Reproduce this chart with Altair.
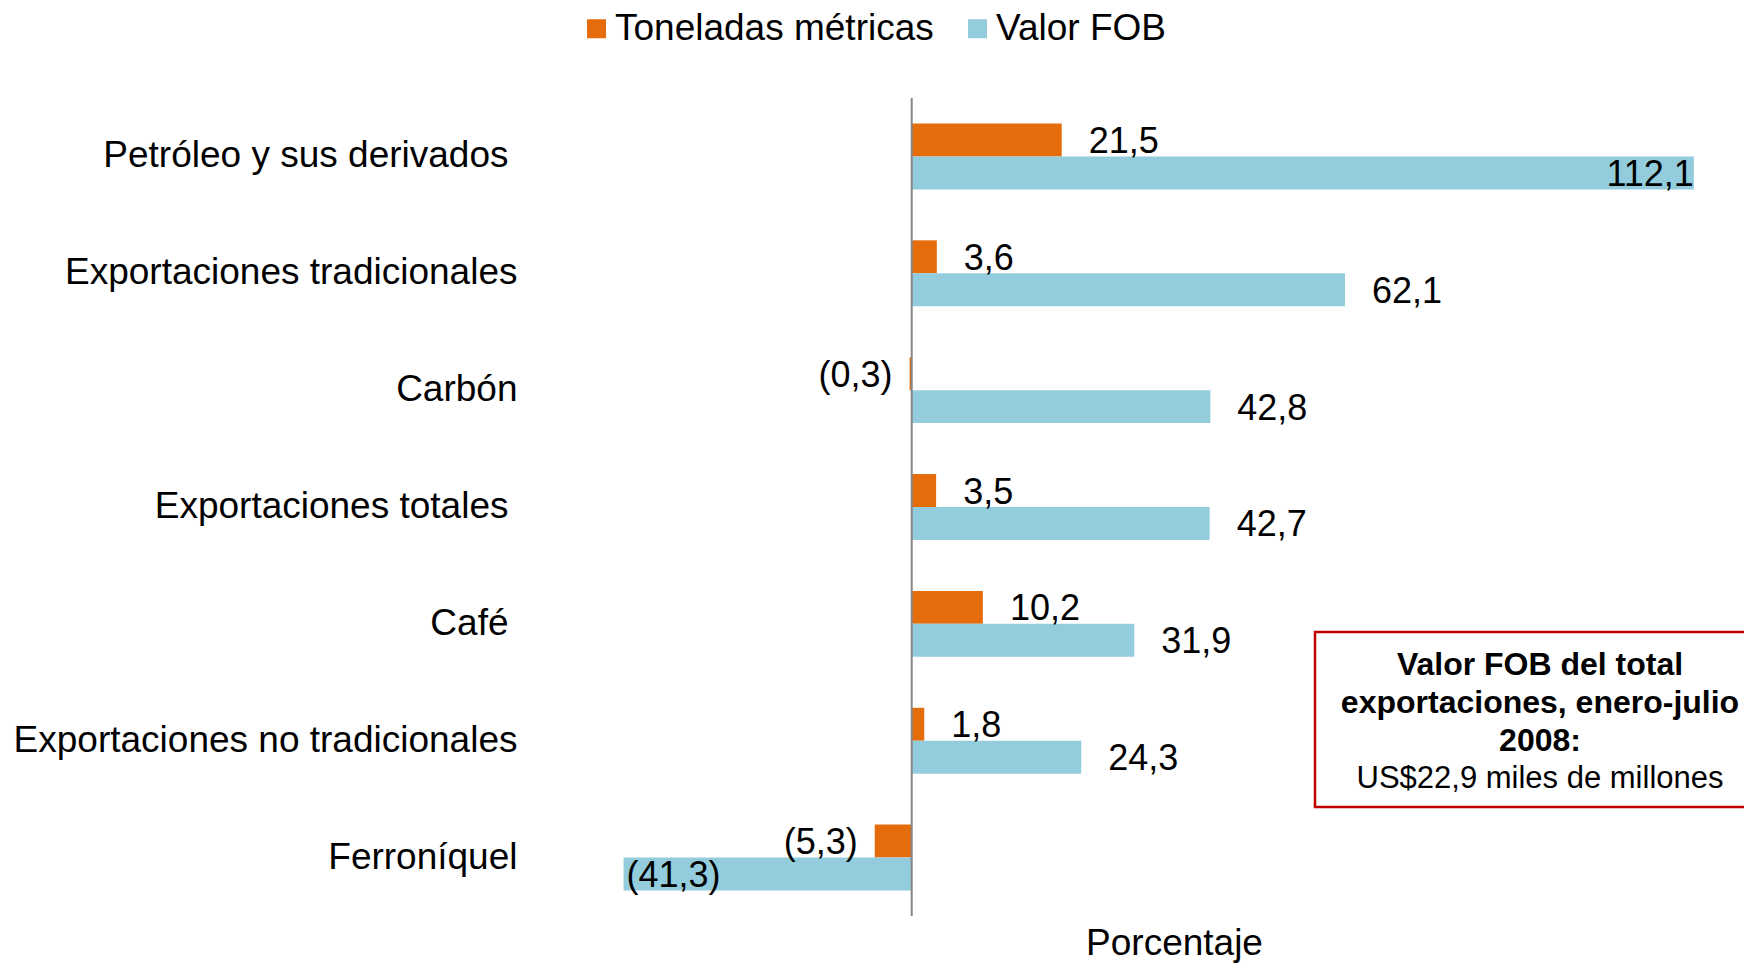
import altair as alt
import pandas as pd

categories = [
    "Petróleo y sus derivados",
    "Exportaciones tradicionales",
    "Carbón",
    "Exportaciones totales",
    "Café",
    "Exportaciones no tradicionales",
    "Ferroníquel",
]
# labels that carried a trailing space in the original
spaced_labels = ["Petróleo y sus derivados", "Exportaciones totales", "Café"]
series = ["Toneladas métricas", "Valor FOB"]
toneladas = [21.5, 3.6, -0.3, 3.5, 10.2, 1.8, -5.3]
valor_fob = [112.1, 62.1, 42.8, 42.7, 31.9, 24.3, -41.3]
colors = ["#E46C0A", "#93CDDD"]
x_title = "Porcentaje"
box_bold = ["Valor FOB del total", "exportaciones, enero-julio", "2008:"]
box_normal = "US$22,9 miles de millones"


def fmt(v):
    s = f"{abs(v):.1f}".replace(".", ",")
    return f"({s})" if v < 0 else s


rows = []
for c, t, v in zip(categories, toneladas, valor_fob):
    rows.append({"cat": c, "series": series[0], "value": t, "label": fmt(t)})
    rows.append({"cat": c, "series": series[1], "value": v, "label": fmt(v)})
df = pd.DataFrame(rows)
one = pd.DataFrame({"k": [0]})

FONT = "Liberation Sans"
W, H = 1214, 818

spaced_js = "[" + ",".join("'" + s + "'" for s in spaced_labels) + "]"

x_scale = alt.Scale(domain=[-56, 118], nice=False, zero=False)
y_enc = alt.Y(
    "cat:N",
    sort=categories,
    scale=alt.Scale(paddingInner=0.436, paddingOuter=0.218),
    axis=alt.Axis(
        title=None, domain=False, ticks=False, tickSize=0,
        labelPadding={"condition": {"test": f"indexof({spaced_js}, datum.label) >= 0", "value": 13}, "value": 4},
        labelFont=FONT, labelFontSize=37, labelColor="#000000", labelLimit=600,
    ),
)
yoff = alt.YOffset("series:N", sort=series, scale=alt.Scale(paddingInner=0, paddingOuter=0))

base = alt.Chart(df)

bars = base.mark_bar().encode(
    x=alt.X(
        "value:Q", scale=x_scale,
        axis=alt.Axis(
            title=x_title, labels=False, ticks=False, domain=False, grid=False,
            titleFont=FONT, titleFontSize=37, titleFontWeight="normal", titleColor="#000000",
            titleX=653, titleY=38, titleBaseline="alphabetic",
        ),
    ),
    y=y_enc,
    yOffset=yoff,
    color=alt.Color(
        "series:N", sort=series,
        scale=alt.Scale(domain=series, range=colors),
        legend=alt.Legend(
            title=None, orient="none", direction="horizontal",
            legendX=57, legendY=-88, padding=0,
            symbolType="square", symbolSize=361, symbolStrokeWidth=0,
            labelFont=FONT, labelFontSize=37, labelColor="#000000",
            labelOffset=0, columnPadding=25, labelLimit=600,
        ),
    ),
)

txt_common = dict(font=FONT, fontSize=36, color="#000000", baseline="middle", dy=2)

lbl_pos = base.mark_text(align="left", dx=27, **txt_common).encode(
    x=alt.X("value:Q", scale=x_scale), y=y_enc, yOffset=yoff, text="label:N"
).transform_filter("datum.value >= 0 && datum.value <= 100")

lbl_neg = base.mark_text(align="right", dx=-17, **txt_common).encode(
    x=alt.X("value:Q", scale=x_scale), y=y_enc, yOffset=yoff, text="label:N"
).transform_filter("datum.value < 0 && datum.value >= -30")

lbl_in_pos = base.mark_text(align="right", dx=0, **txt_common).encode(
    x=alt.X("value:Q", scale=x_scale), y=y_enc, yOffset=yoff, text="label:N"
).transform_filter("datum.value > 100")

lbl_in_neg = base.mark_text(align="left", dx=3, **txt_common).encode(
    x=alt.X("value:Q", scale=x_scale), y=y_enc, yOffset=yoff, text="label:N"
).transform_filter("datum.value < -30")

zero_rule = alt.Chart(one).mark_rule(color="#868686", strokeWidth=2).encode(
    x=alt.datum(0, scale=x_scale)
)

box = alt.Chart(one).mark_rect(
    fill="#FFFFFF", stroke="#C00000", strokeWidth=2.5
).encode(
    x=alt.value(794), x2=alt.value(1300), y=alt.value(534), y2=alt.value(709)
)

box_t1 = alt.Chart(one).mark_text(
    font=FONT, fontSize=32, fontWeight="bold", color="#000000",
    align="center", baseline="middle", lineHeight=38,
).encode(x=alt.value(1019), y=alt.value(567), text=alt.value(box_bold))

box_t2 = alt.Chart(one).mark_text(
    font=FONT, fontSize=31, fontWeight="normal", color="#000000", align="center", baseline="middle",
).encode(x=alt.value(1019), y=alt.value(681), text=alt.value(box_normal))

chart = alt.layer(
    bars, lbl_pos, lbl_neg, lbl_in_pos, lbl_in_neg, zero_rule, box, box_t1, box_t2
).properties(
    width=W, height=H,
    autosize=alt.AutoSizeParams(type="none"),
    padding={"left": 513, "top": 90, "right": 9, "bottom": 47},
).configure(background="#FFFFFF").configure_view(strokeWidth=0, stroke="transparent")

chart.save("out.html", embed_options={"renderer": "svg", "actions": False})
